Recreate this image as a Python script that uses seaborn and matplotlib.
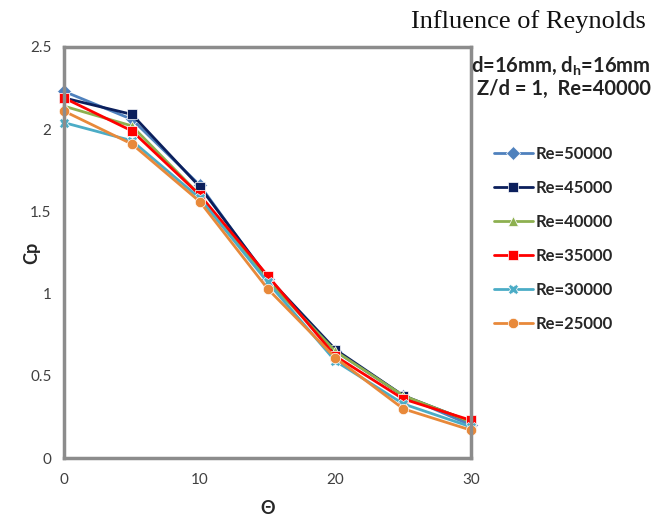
import matplotlib
matplotlib.use("Agg")
import matplotlib.pyplot as plt
import seaborn as sns
import pandas as pd

# angle positions and Cp curves
theta = [0, 5, 10, 15, 20, 25, 30]
re_labels = ["Re=50000", "Re=45000", "Re=40000", "Re=35000", "Re=30000", "Re=25000"]
cp_50000 = [2.23, 2.06, 1.66, 1.09, 0.65, 0.38, 0.20]
cp_45000 = [2.19, 2.09, 1.65, 1.10, 0.66, 0.38, 0.22]
cp_40000 = [2.14, 2.02, 1.60, 1.08, 0.65, 0.38, 0.22]
cp_35000 = [2.19, 1.99, 1.60, 1.11, 0.62, 0.36, 0.23]
cp_30000 = [2.04, 1.93, 1.58, 1.07, 0.59, 0.33, 0.19]
cp_25000 = [2.11, 1.91, 1.56, 1.03, 0.61, 0.30, 0.17]

series = [cp_50000, cp_45000, cp_40000, cp_35000, cp_30000, cp_25000]
rows = []
for lab, vals in zip(re_labels, series):
    for t, v in zip(theta, vals):
        rows.append({"theta": t, "cp": v, "Re": lab})
df = pd.DataFrame(rows)

colors = ["#4F81BD", "#0B1F5C", "#8DB050", "#FF0000", "#4BACC6", "#E8893A"]
markers = ["D", "s", "^", "s", "X", "o"]

sns.set_style("white")
plt.rcParams["font.family"] = ["Lato", "DejaVu Sans"]

fig = plt.figure(figsize=(6.6, 5.16), dpi=100)
ax = fig.add_axes([0.097, 0.112, 0.617, 0.797])

sns.lineplot(data=df, x="theta", y="cp", hue="Re", style="Re",
             hue_order=re_labels, style_order=re_labels,
             palette=colors, markers=markers, dashes=False,
             markersize=7.5, linewidth=2, markeredgewidth=0.5,
             ax=ax, legend=True)

ax.set_xlim(0, 30)
ax.set_ylim(0, 2.5)
ax.set_xticks([0, 10, 20, 30])
ax.set_yticks([0, 0.5, 1, 1.5, 2, 2.5])
ax.set_yticklabels(["0", "0.5", "1", "1.5", "2", "2.5"])
ax.tick_params(labelsize=11, length=0, colors="#404040")
ax.tick_params(axis="x", pad=11)
ax.tick_params(axis="y", pad=9)
for s in ax.spines.values():
    s.set_color("#8C8C8C")
    s.set_linewidth(2.5)
for m in ax.lines:
    m.set_clip_on(False)

ax.set_xlabel("Θ", fontsize=13, fontweight="bold", labelpad=9)
ax.set_ylabel("Cp", fontsize=13, fontweight="bold")
ax.yaxis.set_label_coords(-0.058, 0.5)

ax.legend(loc="upper left", bbox_to_anchor=(1.04, 0.775), frameon=False,
          prop={"size": 12, "weight": "bold"}, handlelength=2.3,
          labelspacing=1.08, handletextpad=0.2, borderaxespad=0)

fig.text(0.714, 0.861, "d=16mm, d$_\\mathregular{h}$=16mm", fontsize=14.5,
         fontweight="bold", color="#222222")
fig.text(0.723, 0.815, "Z/d = 1,  Re=40000", fontsize=14.5,
         fontweight="bold", color="#222222")
fig.text(0.622, 0.945, "Influence of Reynolds", fontsize=19,
         family=["Liberation Serif", "DejaVu Serif"], color="#111111")

fig.savefig("out.png", dpi=100)
